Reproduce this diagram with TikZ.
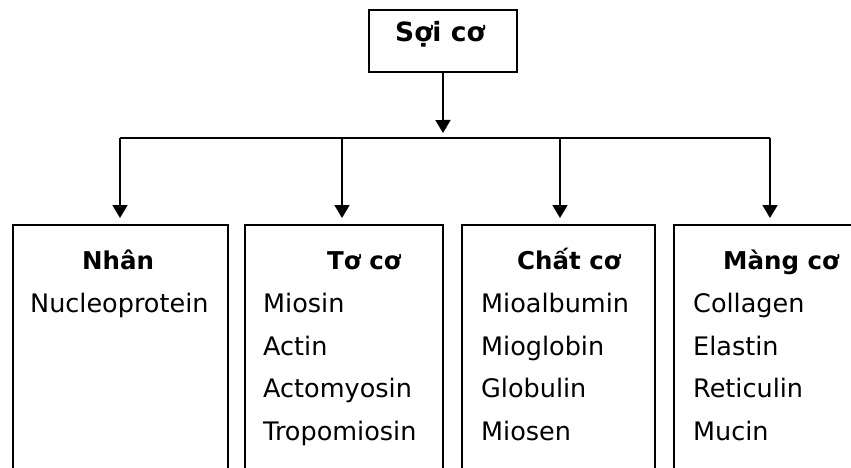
\documentclass[tikz,border=0pt]{standalone}
\usepackage{fontspec}
\setmainfont{DejaVu Sans}
\usetikzlibrary{arrows.meta}
\begin{document}
\begin{tikzpicture}[x=1pt,y=-1pt]
\tikzset{
  boxframe/.style={draw=black, line width=1.8pt, anchor=north west, inner sep=0pt, fill=white},
  head/.style={anchor=base west, inner sep=0pt, font=\fontsize{24.5}{29}\selectfont\bfseries},
  item/.style={anchor=base west, inner sep=0pt, font=\fontsize{25.5}{30}\selectfont},
  link/.style={draw=black, line width=1.8pt},
  arrowlink/.style={link, -{Triangle[length=13pt,width=15pt]}},
}
\fill[white] (0,0) rectangle (851,468);
\useasboundingbox (0,0) rectangle (851,468);
\clip (0,0) rectangle (851,468);

% root box
\node[boxframe, minimum width=148pt, minimum height=62pt] (root) at (368,9) {};
\node[head, font=\fontsize{26.5}{30}\selectfont\bfseries] (roott) at (395,42) {Sợi cơ};

% four category boxes (run past the lower edge)
\node[boxframe, minimum width=215pt, minimum height=270pt] (b1) at (12,224) {};
\node[boxframe, minimum width=198pt, minimum height=270pt] (b2) at (244,224) {};
\node[boxframe, minimum width=193pt, minimum height=270pt] (b3) at (461,224) {};
\node[boxframe, minimum width=200pt, minimum height=270pt] (b4) at (673,224) {};

% connectors
\coordinate (hub) at (443,133);
\draw[arrowlink] (root.south) -- (hub);
\coordinate (jl) at (120,138);
\coordinate (j2) at (342,138);
\coordinate (j3) at (560,138);
\coordinate (jr) at (770,138);
\draw[link] (jl) -- (jr);
\draw[arrowlink, shorten >=6pt] (jl) -- (jl |- b1.north);
\draw[arrowlink, shorten >=6pt] (j2) -- (j2 |- b2.north);
\draw[arrowlink, shorten >=6pt] (j3) -- (j3 |- b3.north);
\draw[arrowlink, shorten >=6pt] (jr) -- (jr |- b4.north);

% box 1
\node[head] (h1) at (82,269) {Nhân};
\node[item] (i11) at (30,312) {Nucleoprotein};

% box 2
\node[head] (h2) at (327,269) {Tơ cơ};
\node[item] (i21) at (263,312) {Miosin};
\node[item] (i22) at (263,355) {Actin};
\node[item] (i23) at (263,397) {Actomyosin};
\node[item] (i24) at (263,440) {Tropomiosin};

% box 3
\node[head] (h3) at (517,269) {Chất cơ};
\node[item] (i31) at (481,312) {Mioalbumin};
\node[item] (i32) at (481,355) {Mioglobin};
\node[item] (i33) at (481,397) {Globulin};
\node[item] (i34) at (481,440) {Miosen};

% box 4
\node[head] (h4) at (723,269) {Màng cơ};
\node[item] (i41) at (693,312) {Collagen};
\node[item] (i42) at (693,355) {Elastin};
\node[item] (i43) at (693,397) {Reticulin};
\node[item] (i44) at (693,440) {Mucin};
\end{tikzpicture}
\end{document}
